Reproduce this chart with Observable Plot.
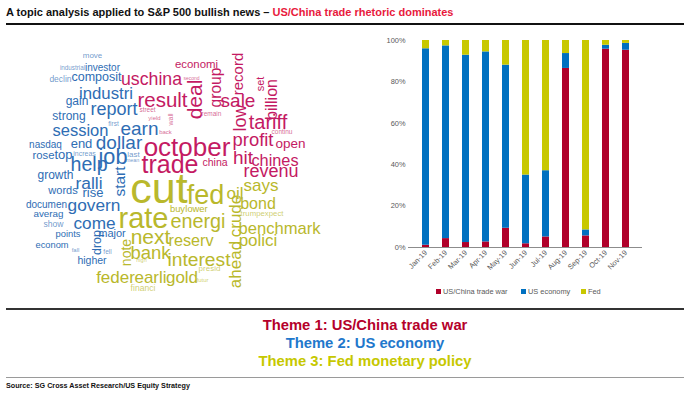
<!DOCTYPE html>
<html>
<head>
<meta charset="utf-8">
<script src="https://cdn.jsdelivr.net/npm/d3@7"></script>
<script src="https://cdn.jsdelivr.net/npm/@observablehq/plot@0.6"></script>
<style>
  html, body { margin: 0; padding: 0; background: #fff; }
  #root { position: relative; width: 690px; height: 399px; overflow: hidden; background: #fff;
          font-family: "Liberation Sans", Arial, sans-serif; }
  .abs { position: absolute; }
  .rule { position: absolute; left: 6px; width: 678px; }
  .leg { position: absolute; top: 287px; font-size: 7.4px; color: #595959; line-height: 10px; white-space: nowrap; }
  .leg i { display: inline-block; width: 5px; height: 5px; margin-right: 2px; vertical-align: 0px; }
  .theme { position: absolute; left: 0; width: 730px; text-align: center; font-weight: bold;
           font-size: 14.8px; line-height: 18px; white-space: nowrap; }
</style>
</head>
<body>
<div id="root">
  <div class="abs" id="title" style="left:6px;top:6px;font-size:11px;line-height:13px;font-weight:bold;white-space:nowrap;color:#111"></div>
  <div class="rule" style="top:23px;height:1.6px;background:#111"></div>
  <div class="abs" id="cloud" style="left:0;top:30px"></div>
  <div class="abs" id="bars" style="left:370px;top:30px"></div>
  <div id="legend"></div>
  <div class="rule" style="top:308px;height:2px;background:#333"></div>
  <div id="themesText"></div>
  <div class="rule" style="top:377px;height:1px;background:#9a9a9a"></div>
  <div class="abs" id="source" style="left:6px;top:382px;font-size:7.2px;line-height:8px;font-weight:bold;color:#111;white-space:nowrap"></div>
</div>
<script>
// ---------- texts ----------
const titleMain = "A topic analysis applied to S&P 500 bullish news \u2013 ";
const titleHighlight = "US/China trade rhetoric dominates";
const sourceText = "Source: SG Cross Asset Research/US Equity Strategy";
const themeLines = ["Theme 1: US/China trade war", "Theme 2: US economy", "Theme 3: Fed monetary policy"];

// ---------- bar chart data (share of news, %) ----------
const months = ["Jan-19","Feb-19","Mar-19","Apr-19","May-19","Jun-19","Jul-19","Aug-19","Sep-19","Oct-19","Nov-19"];
const themes = ["US/China trade war", "US economy", "Fed"];
const tradeWar  = [1.1, 4.3, 2.4, 2.7, 9.3, 1.8, 5.1, 86.5, 5.6, 95.8, 95.3];
const usEconomy = [94.9, 93.1, 90.5, 91.8, 78.8, 33.2, 32.0, 7.2, 2.9, 1.9, 3.3];
const fedShare  = [4.0, 2.6, 7.1, 5.5, 11.9, 65.0, 62.9, 6.3, 91.5, 2.3, 1.4];
const yTicks = [0, 20, 40, 60, 80, 100];

// ---------- word cloud data ----------
// theme key: w = US/China trade war, e = US economy, f = Fed
const cloudWords = ["move","industrial","investor","declin","composit","uschina","second","economi","industri","result",
  "deal","gain","report","street","yield","wall","remain","strong","first","session",
  "earn","back","nasdaq","end","dollar","october","rose","top","increas","job",
  "last","mean","help","trade","start","growth","ralli","words","rise","documen",
  "govern","averag","show","come","points","drop","major","econom","fall","fell",
  "higher","note","next","bank","high","feder","earli","gold","futur","financi",
  "group","record","sale","low","set","billion","tariff","continu","profit","open",
  "china","hit","chines","revenu","cut","fed","oil","says","rate","buy",
  "lower","energi","crude","ahead","bond","trump","expect","benchmark","polici","reserv",
  "interest","presid"];
const cloudTheme = ["e","e","e","e","e","w","w","w","e","w",
  "w","e","e","w","w","w","w","e","e","e",
  "e","w","e","e","e","w","e","e","e","e",
  "e","e","e","w","e","e","e","e","e","e",
  "e","e","e","e","e","e","e","e","e","e",
  "e","f","f","f","f","f","f","f","f","f",
  "w","w","w","w","w","w","w","w","w","w",
  "w","w","w","w","f","f","f","f","f","f",
  "f","f","f","f","f","f","f","f","f","f",
  "f","f"];
const cloudWeight = [8,6.3,10,8.5,12.5,17.7,5,11.4,16.8,20.5,
  21,12,18,6.5,6,7,6.5,12,6.5,16.5,
  19,6,10,13,19,26,11.3,13,7,21.7,
  8,5.5,19.6,25,15.5,12,17.4,11,13,10,
  17.3,9.8,8.6,17.2,9.4,12.5,11,9.3,6,6.5,
  10.5,14,21,18.5,5.5,17,17,17,6,8.6,
  15.6,15,19,18,11,16,20,6.5,18.4,13.5,
  10.5,19,16.3,18,43,27,17,17,29,9.4,
  9.4,19.8,17,17,16,7.8,7.8,16.6,17,16.2,
  19.2,8];
// cloud layout: [x, y, rotation] in cloud units (horizontal words: baseline; vertical words: centre)
const cloudLayout = [[92,57,0],[72,69.5,0],[102,70,0],[60,81,0],[96,80,0],[151,84,0],[191,79,0],[196,67,0],[105.5,98,0],[162,106,0],
  [194.5,99,-90],[76.5,104,0],[113.5,114,0],[147,111,0],[154,119,0],[170,119,-90],[211,115,0],[68.5,119,0],[113,125,0],[80,135,0],
  [139,134,0],[165,133,0],[45,147,0],[81,147,0],[118.5,148,0],[186.5,155,0],[43,158,0],[63,158,0],[84,155,0],[112.5,163,0],
  [133,156,0],[132,161,0],[88.5,170,0],[169.5,172,0],[120,181,-90],[55,178,0],[88.5,188,0],[62.5,193,0],[92.5,196,0],[46,207,0],
  [93.5,210,0],[48,216,0],[53,226,0],[94,228,0],[67.5,236,0],[96,242,-90],[111.5,236,0],[51.5,247,0],[75,251,0],[107,253,0],
  [91.5,263,0],[126,252,-90],[150,243,0],[150,258,0],[141,261,0],[115,282,0],[150,282,0],[181.5,282,0],[202,281,0],[142.5,290,0],
  [215,87,-90],[238,73.5,-90],[237.5,106,0],[240,117.5,-90],[259.5,83.5,-90],[271,99,-90],[267.5,128,0],[281.5,133,0],[252.5,145,0],[290,147,0],
  [214.5,165,0],[242.5,163,0],[274.5,165,0],[270.5,176,0],[158.5,202,0],[205,203,0],[234.5,198,0],[260.5,190,0],[143,227,0],[177,211,0],
  [196,211,0],[197.5,227,0],[235,215.5,-90],[235,264,-90],[257.5,208,0],[250,215,0],[271.5,215,0],[279,233,0],[257.5,245,0],[190.5,245,0],
  [198.5,265,0],[209,270,0]];

// ---------- colours ----------
const barColors = ["#b0002a", "#0070c0", "#c8c800"];
const cloudColors = ["#c41a63", "#2e6db4", "#b9b82c"];
const themeColors = ["#b5002a", "#1f78cc", "#c6c800"];

// ---------- title / footer ----------
document.getElementById("title").innerHTML =
  titleMain.replace("&", "&amp;") + '<span style="color:#e8193c">' + titleHighlight + "</span>";
document.getElementById("source").textContent = sourceText;
document.getElementById("themesText").innerHTML = themeLines.map((t, i) =>
  `<div class="theme" style="top:${316 + i * 18}px;color:${themeColors[i]}">${t}</div>`).join("");

// ---------- word cloud ----------
const cloudData = cloudWords.map((w, i) => ({
  word: w, theme: cloudTheme[i], weight: cloudWeight[i],
  x: cloudLayout[i][0], y: cloudLayout[i][1], rot: cloudLayout[i][2]
}));
const cloud = Plot.plot({
  width: 360, height: 270, margin: 0,
  style: {background: "transparent", fontFamily: "'Liberation Sans', Arial, sans-serif"},
  x: {domain: [0, 360], range: [0, 360], axis: null},
  y: {domain: [30, 300], range: [0, 270], axis: null},
  color: {domain: ["w", "e", "f"], range: cloudColors},
  marks: [
    Plot.text(cloudData.filter(d => d.rot === 0), {
      x: "x", y: "y", text: "word", fill: "theme", fontSize: "weight",
      fillOpacity: d => d.weight < 9 ? 0.7 : 1,
      textAnchor: "middle", lineAnchor: "bottom"
    }),
    Plot.text(cloudData.filter(d => d.rot !== 0), {
      x: "x", y: "y", text: "word", fill: "theme", fontSize: "weight",
      fillOpacity: d => d.weight < 9 ? 0.7 : 1,
      rotate: -90, textAnchor: "middle", lineAnchor: "middle"
    })
  ]
});
document.getElementById("cloud").appendChild(cloud);

// ---------- stacked bars ----------
const series = [tradeWar, usEconomy, fedShare];
const rows = months.flatMap((m, i) => themes.map((t, k) => ({month: m, theme: t, value: series[k][i]})));
const bars = Plot.plot({
  width: 290, height: 250,
  marginLeft: 41.6, marginRight: 19.6, marginTop: 10, marginBottom: 33,
  style: {background: "transparent", fontFamily: "'Liberation Sans', Arial, sans-serif", fontSize: "7.4px"},
  x: {domain: months, paddingInner: 0.63, paddingOuter: 0.315, label: null, axis: null},
  y: {domain: [0, 100], label: null, axis: null},
  color: {domain: themes, range: barColors},
  marks: [
    Plot.barY(rows, {x: "month", y: "value", fill: "theme"}),
    Plot.ruleY([0], {stroke: "#8c8c8c", strokeWidth: 1, insetLeft: -3.6, insetRight: -1.6}),
    Plot.axisY(yTicks, {tickSize: 0, tickPadding: 6.6, tickFormat: d => d + "%", fill: "#595959", label: null}),
    Plot.axisX({tickSize: 0, tickPadding: 4, tickRotate: -45, fill: "#595959", label: null})
  ]
});
document.getElementById("bars").appendChild(bars);

// ---------- legend ----------
const legendX = [436, 521, 581];
document.getElementById("legend").innerHTML = themes.map((t, i) =>
  `<div class="leg" style="left:${legendX[i]}px"><i style="background:${barColors[i]}"></i>${t}</div>`).join("");
</script>
</body>
</html>
